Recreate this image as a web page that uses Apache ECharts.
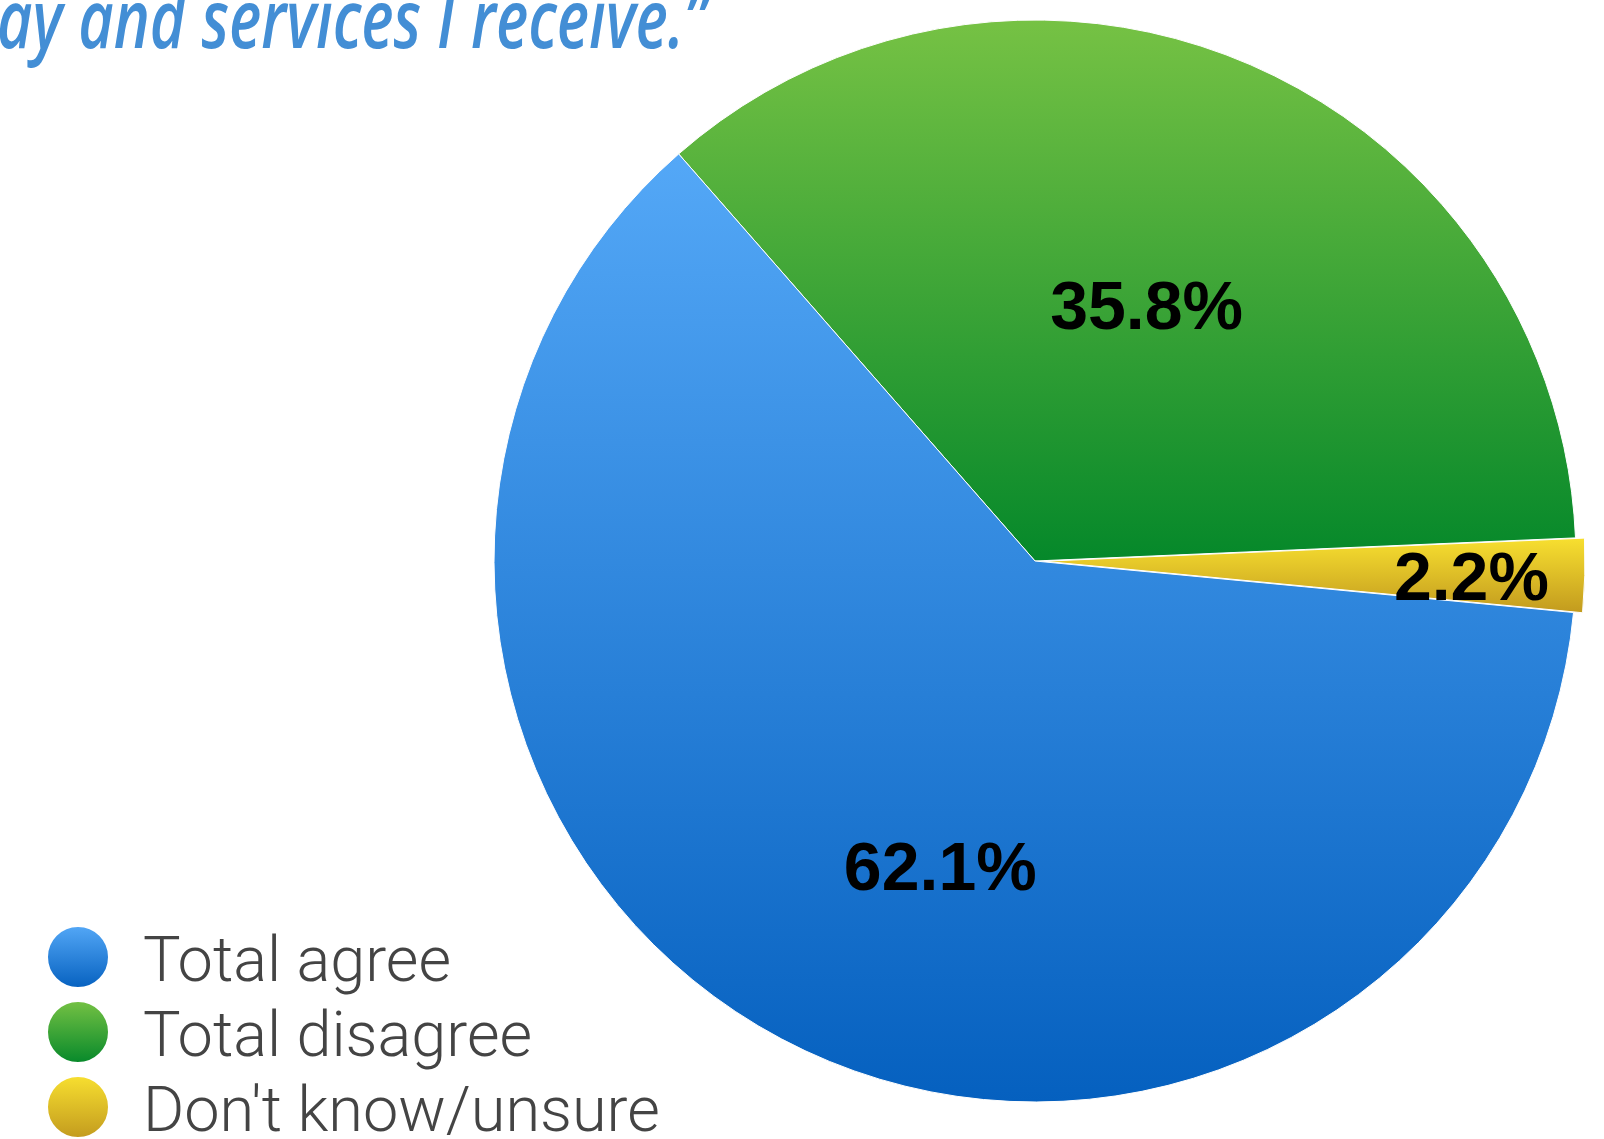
<!DOCTYPE html>
<html>
<head>
<meta charset="utf-8">
<title>Taxes and services</title>
<script src="https://cdn.jsdelivr.net/npm/echarts@6/dist/echarts.min.js"></script>
<style>
  html, body { margin: 0; padding: 0; background: #ffffff; }
  #chart { width: 1604px; height: 1139px; }
</style>
</head>
<body>
<div id="chart"></div>
<script>
// Survey answers, drawn clockwise starting from the upper-left boundary
const categories = ['Total disagree', "Don't know/unsure", 'Total agree'];
const shares = [35.8, 2.2, 62.1];
const legendOrder = ['Total agree', 'Total disagree', "Don't know/unsure"];
const titleLine = 'ay and services I receive.\u201D';

// Top-to-bottom gradient stops for each slice
const gradients = {
  'Total agree': ['#54a8f7', '#0560bf'],
  'Total disagree': ['#76c244', '#05882a'],
  "Don't know/unsure": ['#f8e030', '#c29a1e']
};
// Label nudges relative to the slice midpoint
const labelShift = {
  'Total agree': [30, 67],
  'Total disagree': [4, 1],
  "Don't know/unsure": [154, 13]
};

function grad(stops) {
  return new echarts.graphic.LinearGradient(0, 0, 0, 1, [
    { offset: 0, color: stops[0] },
    { offset: 1, color: stops[1] }
  ]);
}

const chart = echarts.init(document.getElementById('chart'), null, { renderer: 'canvas' });

chart.setOption({
  animation: false,
  backgroundColor: '#ffffff',
  legend: {
    data: legendOrder,
    orient: 'vertical',
    left: 46,
    top: 925,
    height: 280,
    padding: 0,
    icon: 'circle',
    itemWidth: 62,
    itemHeight: 62,
    itemGap: 3,
    selectedMode: false,
    formatter: function (name) { return '{s|}{t|' + name + '}'; },
    textStyle: {
      padding: [0, 0, 0, 29],
      rich: {
        // spacer sets the line box so the words sit a little lower
        s: { height: 80, width: 0 },
        t: {
          fontFamily: 'Roboto',
          fontWeight: 300,
          fontSize: 63,
          lineHeight: 62,
          color: '#444444',
          verticalAlign: 'bottom'
        }
      }
    }
  },
  graphic: [{
    type: 'text',
    left: -3,
    top: -16,
    scaleX: 0.745,
    style: {
      text: titleLine,
      fill: '#438ed5',
      font: 'italic 600 82px "Open Sans"'
    }
  }],
  series: [{
    type: 'pie',
    center: [1035, 561],
    radius: [0, 541],
    startAngle: 131.2,
    clockwise: true,
    selectedMode: 'single',
    selectedOffset: 9,
    avoidLabelOverlap: false,
    emphasis: { disabled: true },
    itemStyle: { borderColor: '#ffffff', borderWidth: 1 },
    label: {
      show: true,
      position: 'inside',
      formatter: '{c}%',
      color: '#000000',
      fontFamily: 'Liberation Sans',
      fontWeight: 'bold',
      fontSize: 68
    },
    labelLine: { show: false },
    labelLayout: function (params) {
      const s = labelShift[categories[params.dataIndex]];
      return { dx: s[0], dy: s[1] };
    },
    data: categories.map(function (name, i) {
      return {
        name: name,
        value: shares[i],
        selected: name === "Don't know/unsure",
        itemStyle: { color: grad(gradients[name]) }
      };
    })
  }]
});
</script>
</body>
</html>
